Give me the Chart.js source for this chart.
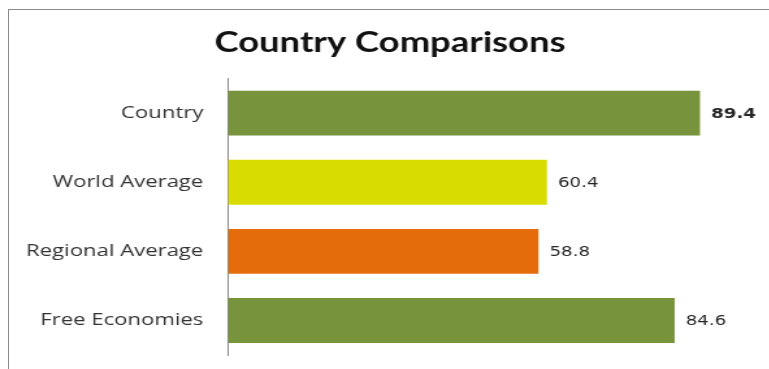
<!DOCTYPE html>
<html>
<head>
<meta charset="utf-8">
<script src="https://cdn.jsdelivr.net/npm/chart.js@4"></script>
<style>
  html, body { margin: 0; padding: 0; background: #fff; }
  #wrap { position: relative; width: 769px; height: 369px; overflow: hidden; }
  #frame {
    position: absolute; left: 8px; top: 9px; width: 800px; height: 400px;
    border-left: 1px solid #8a8a8a; border-top: 1px solid #8a8a8a;
  }
  /* the chart is laid out narrow and widened to the full box */
  #chart { position: absolute; left: 0; top: 0; transform: scaleX(1.3); transform-origin: 0 0; }
</style>
</head>
<body>
<div id="wrap">
  <div id="frame"></div>
  <canvas id="chart" width="592" height="369"></canvas>
</div>
<script>
// Comparison scores
const CATEGORIES = ['Country', 'World Average', 'Regional Average', 'Free Economies'];
const SCORES = [89.4, 60.4, 58.8, 84.6];
const BAR_COLORS = ['#77933c', '#d9dc00', '#e46c0a', '#77933c'];

// Prints each bar's value just past its end; the first one in bold
const valueLabels = {
  id: 'valueLabels',
  afterDatasetsDraw(chart) {
    const ctx = chart.ctx;
    const meta = chart.getDatasetMeta(0);
    ctx.save();
    ctx.fillStyle = '#262626';
    ctx.textAlign = 'left';
    ctx.textBaseline = 'middle';
    meta.data.forEach((bar, i) => {
      ctx.font = (i === 0 ? 'bold ' : '') + '14px "DejaVu Sans"';
      ctx.fillText(SCORES[i].toFixed(1), bar.x + 8.5, bar.y + 1);
    });
    ctx.restore();
  }
};

new Chart(document.getElementById('chart'), {
  type: 'bar',
  data: {
    labels: CATEGORIES,
    datasets: [{
      data: SCORES,
      backgroundColor: BAR_COLORS,
      borderWidth: 0,
      categoryPercentage: 0.65,
      barPercentage: 1
    }]
  },
  options: {
    indexAxis: 'y',
    responsive: false,
    animation: false,
    // left padding nudges the centred title right; the axis width makes up for it
    layout: { padding: { left: 18.5, right: 10.5, top: 0, bottom: 14 } },
    plugins: {
      legend: { display: false },
      tooltip: { enabled: false },
      title: {
        display: true,
        text: 'Country Comparisons',
        color: '#111',
        font: { family: 'Lato', size: 28, weight: 'bold' },
        padding: { top: 26, bottom: 19 }
      }
    },
    scales: {
      x: { display: false, min: 0, max: 100 },
      y: {
        afterFit(scale) {
          scale.width = 156.9;
          scale.paddingTop = 0;
          scale.paddingBottom = 0;
        },
        grid: { display: false },
        border: { display: true, color: '#8a8a8a', width: 1 },
        ticks: {
          color: '#333',
          padding: 11,
          font: { family: 'Open Sans', size: 17 }
        }
      }
    }
  },
  plugins: [valueLabels]
});
</script>
</body>
</html>
